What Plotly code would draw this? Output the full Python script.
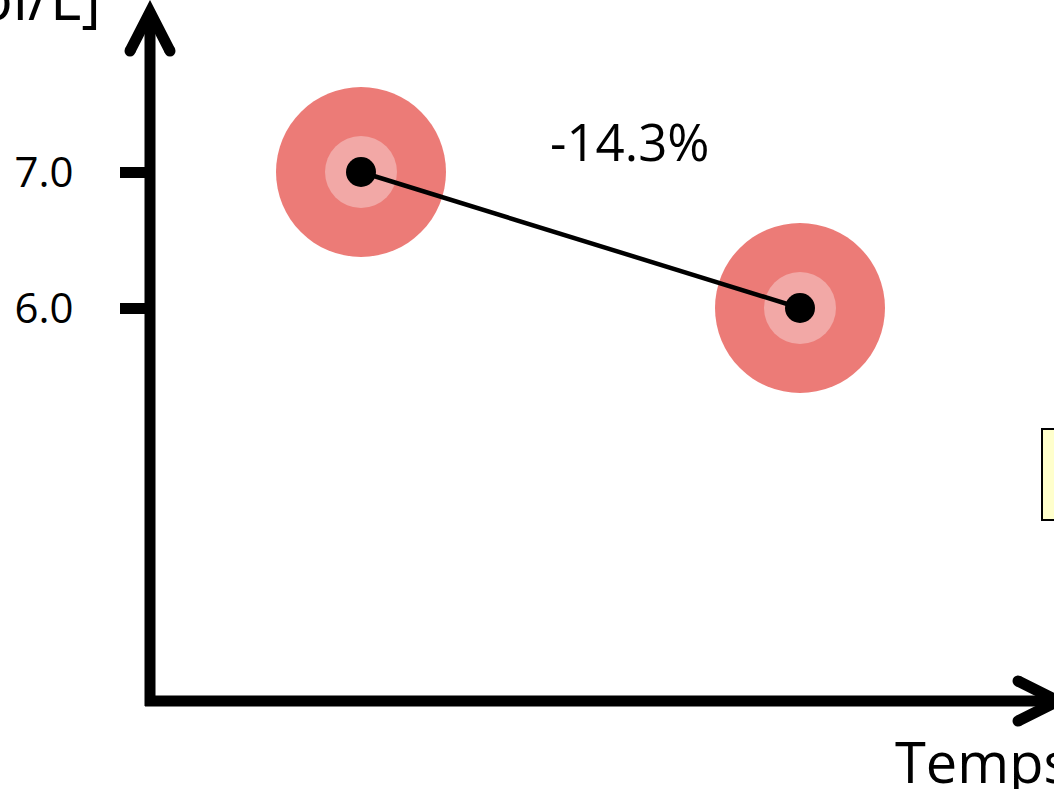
import plotly.graph_objects as go

W, H = 1054, 789

# ---- data ----
times = [1, 2]
values = [7.0, 6.0]
tick_vals = [6.0, 7.0]
tick_text = ["6.0", "7.0"]
y_title = "[mmol/L]"
x_title = "Temps"
change = (values[1] - values[0]) / values[0] * 100
change_label = f"{change:.1f}%"

FONT = "Open Sans"
BIG = "#EC7B77"
INNER = "#F2A8A6"


def px(x):
    return x / W


def py(y):
    return 1 - y / H


fig = go.Figure()
fig.add_trace(go.Scatter(x=times, y=values, mode="markers",
                         marker=dict(size=170, color=BIG, line=dict(width=0)),
                         hoverinfo="skip", showlegend=False))
fig.add_trace(go.Scatter(x=times, y=values, mode="markers",
                         marker=dict(size=72, color=INNER, line=dict(width=0)),
                         hoverinfo="skip", showlegend=False))
fig.add_trace(go.Scatter(x=times, y=values, mode="lines",
                         line=dict(color="black", width=4.5),
                         hoverinfo="skip", showlegend=False))
fig.add_trace(go.Scatter(x=times, y=values, mode="markers",
                         marker=dict(size=30, color="black", line=dict(width=0)),
                         showlegend=False))

shapes = []
LW = 11
# axis lines
shapes.append(dict(type="line", xref="paper", yref="paper",
                   x0=px(150), x1=px(150), y0=py(14), y1=py(706),
                   line=dict(color="black", width=LW)))
shapes.append(dict(type="line", xref="paper", yref="paper",
                   x0=px(145), x1=px(1056), y0=py(701), y1=py(701),
                   line=dict(color="black", width=LW)))
# arrow chevrons
shapes.append(dict(type="path", xref="paper", yref="paper",
                   path=f"M {px(130)},{py(51)} L {px(150)},{py(12)} L {px(170)},{py(51)}",
                   line=dict(color="black", width=LW)))
shapes.append(dict(type="path", xref="paper", yref="paper",
                   path=f"M {px(1018)},{py(681)} L {px(1058)},{py(701)} L {px(1018)},{py(721)}",
                   line=dict(color="black", width=LW)))
# round caps
for cx, cy in [(130, 51), (170, 51), (1018, 681), (1018, 721)]:
    r = LW / 2
    shapes.append(dict(type="circle", xref="paper", yref="paper",
                       x0=px(cx - r), x1=px(cx + r), y0=py(cy + r), y1=py(cy - r),
                       fillcolor="black", line=dict(width=0)))
# yellow box (partially visible)
shapes.append(dict(type="rect", xref="paper", yref="paper",
                   x0=px(1042), x1=px(1080), y0=py(520), y1=py(429),
                   fillcolor="#FFFFCC", line=dict(color="black", width=2)))

annotations = [
    dict(text=change_label, xref="paper", yref="paper", x=px(629), y=py(141),
         xanchor="center", yanchor="middle", showarrow=False,
         font=dict(family=FONT, size=51, color="black")),
    dict(text=x_title, xref="paper", yref="paper", x=px(893), y=py(761),
         xanchor="left", yanchor="middle", showarrow=False,
         font=dict(family=FONT, size=56, color="black")),
    dict(text=y_title, xref="paper", yref="paper", x=px(103), y=py(-3),
         xanchor="right", yanchor="middle", showarrow=False,
         font=dict(family=FONT, size=60, color="black")),
]

# scale: 7.0 at y=172 px, 6.0 at y=308 px; t=1 at x=361 px, t=2 at x=800 px
ppu_y = 136.0
ppu_x = 439.0
y_range = [7 - (H - 172) / ppu_y, 7 + 172 / ppu_y]
x_range = [1 - 361 / ppu_x, 1 + (W - 361) / ppu_x]

fig.update_layout(
    width=W, height=H,
    margin=dict(l=0, r=0, t=0, b=0),
    paper_bgcolor="white", plot_bgcolor="white",
    shapes=shapes, annotations=annotations,
    xaxis=dict(range=x_range, showgrid=False, zeroline=False, showline=False,
               showticklabels=False, ticks="", fixedrange=True),
    yaxis=dict(range=y_range, showgrid=False, zeroline=False, showline=False,
               anchor="free", position=px(150), side="left",
               tickmode="array", tickvals=tick_vals, ticktext=tick_text,
               ticks="outside", ticklen=30, tickwidth=LW, tickcolor="black",
               ticklabelstandoff=38,
               tickfont=dict(family=FONT, size=42, color="black"),
               fixedrange=True),
)

fig.write_html("out.html")
